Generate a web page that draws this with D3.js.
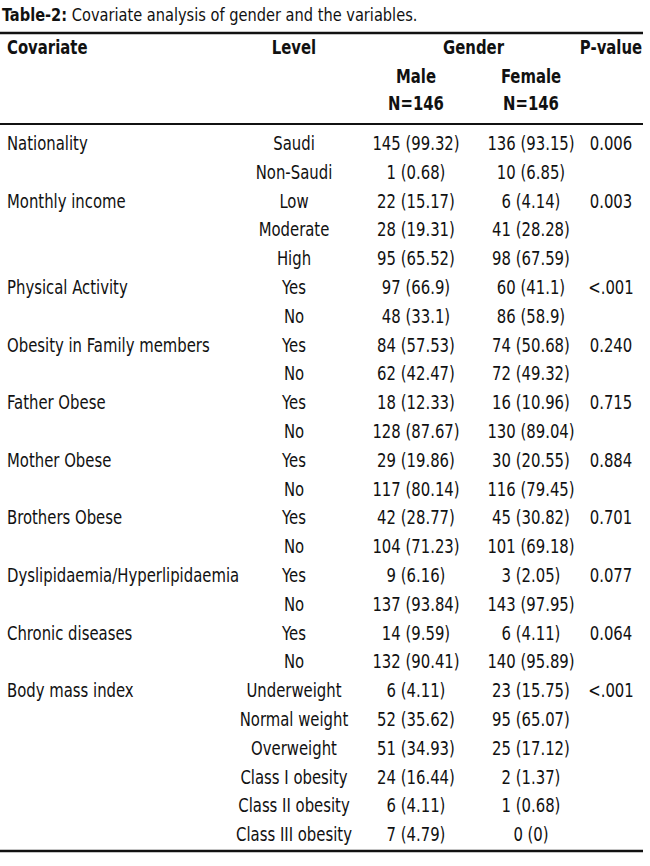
<!DOCTYPE html>
<html><head><meta charset="utf-8">
<script src="https://cdn.jsdelivr.net/npm/d3@7"></script>
<style>
html,body{margin:0;padding:0;background:#fff;}
svg text{font-family:"DejaVu Sans Condensed","DejaVu Sans",sans-serif;font-stretch:condensed;fill:#111;}
</style></head>
<body>
<svg id="c" width="650" height="866"></svg>
<script>
const titleBold = "Table-2:";
const titleRest = " Covariate analysis of gender and the variables.";
const headers = ["Covariate", "Level", "Gender", "P-value"];
const subHeaders = ["Male", "Female"];
const subN = ["N=146", "N=146"];
const covariates = ["Nationality", "", "Monthly income", "", "", "Physical Activity", "", "Obesity in Family members", "", "Father Obese", "", "Mother Obese", "", "Brothers Obese", "", "Dyslipidaemia/Hyperlipidaemia", "", "Chronic diseases", "", "Body mass index", "", "", "", "", ""];
const levels = ["Saudi", "Non-Saudi", "Low", "Moderate", "High", "Yes", "No", "Yes", "No", "Yes", "No", "Yes", "No", "Yes", "No", "Yes", "No", "Yes", "No", "Underweight", "Normal weight", "Overweight", "Class I obesity", "Class II obesity", "Class III obesity"];
const male = ["145 (99.32)", "1 (0.68)", "22 (15.17)", "28 (19.31)", "95 (65.52)", "97 (66.9)", "48 (33.1)", "84 (57.53)", "62 (42.47)", "18 (12.33)", "128 (87.67)", "29 (19.86)", "117 (80.14)", "42 (28.77)", "104 (71.23)", "9 (6.16)", "137 (93.84)", "14 (9.59)", "132 (90.41)", "6 (4.11)", "52 (35.62)", "51 (34.93)", "24 (16.44)", "6 (4.11)", "7 (4.79)"];
const female = ["136 (93.15)", "10 (6.85)", "6 (4.14)", "41 (28.28)", "98 (67.59)", "60 (41.1)", "86 (58.9)", "74 (50.68)", "72 (49.32)", "16 (10.96)", "130 (89.04)", "30 (20.55)", "116 (79.45)", "45 (30.82)", "101 (69.18)", "3 (2.05)", "143 (97.95)", "6 (4.11)", "140 (95.89)", "23 (15.75)", "95 (65.07)", "25 (17.12)", "2 (1.37)", "1 (0.68)", "0 (0)"];
const pvalues = ["0.006", "", "0.003", "", "", "<.001", "", "0.240", "", "0.715", "", "0.884", "", "0.701", "", "0.077", "", "0.064", "", "<.001", "", "", "", "", ""];

const svg = d3.select("#c");
const fs = 19, sx = 0.87;
const colX = {cov: 7, level: 294, male: 416, female: 531, p: 611};
const y = d3.scaleBand().domain(d3.range(levels.length)).range([128.6, 848.6]);
const base = i => y(i) + y.bandwidth()/2 + 7;
const tf = (x, yy, s) => `translate(${x},${yy}) scale(${s},1)`;

// title
const t = svg.append("text").attr("transform", tf(2, 21, 0.955)).attr("font-size", 17);
t.append("tspan").attr("font-weight", "bold").text(titleBold);
t.append("tspan").text(titleRest);

// rules
const rules = [{y: 33, w: 2.4}, {y: 124, w: 2}, {y: 851, w: 2.4}];
svg.selectAll("line.rule").data(rules).join("line").attr("class","rule")
  .attr("x1", 0).attr("x2", 643).attr("y1", d=>d.y).attr("y2", d=>d.y)
  .attr("stroke", "#111").attr("stroke-width", d=>d.w);

// headers
const hdr = [
  {t: headers[0], x: colX.cov, a: "start"},
  {t: headers[1], x: colX.level, a: "middle"},
  {t: headers[2], x: (colX.male + colX.female)/2, a: "middle"},
  {t: headers[3], x: colX.p, a: "middle"}
];
svg.selectAll("text.h").data(hdr).join("text").attr("class","h")
  .attr("transform", d=>tf(d.x, 54, sx)).attr("text-anchor", d=>d.a)
  .attr("font-size", fs).attr("font-weight","bold").text(d=>d.t);
svg.selectAll("text.sh").data(subHeaders).join("text").attr("class","sh")
  .attr("transform", (d,i)=>tf(i===0 ? colX.male : colX.female, 83, sx))
  .attr("text-anchor","middle").attr("font-size", fs).attr("font-weight","bold").text(d=>d);
svg.selectAll("text.sn").data(subN).join("text").attr("class","sn")
  .attr("transform", (d,i)=>tf(i===0 ? colX.male : colX.female, 110, sx))
  .attr("text-anchor","middle").attr("font-size", fs).attr("font-weight","bold").text(d=>d);

// body
const cols = [
  {arr: covariates, x: colX.cov, a: "start"},
  {arr: levels, x: colX.level, a: "middle"},
  {arr: male, x: colX.male, a: "middle"},
  {arr: female, x: colX.female, a: "middle"},
  {arr: pvalues, x: colX.p, a: "middle"}
];
cols.forEach((c, ci) => {
  svg.selectAll("text.b" + ci).data(c.arr).join("text").attr("class", "b" + ci)
    .attr("transform", (d,i)=>tf(c.x, base(i), sx)).attr("text-anchor", c.a)
    .attr("font-size", fs).text(d=>d);
});
</script>
</body></html>
